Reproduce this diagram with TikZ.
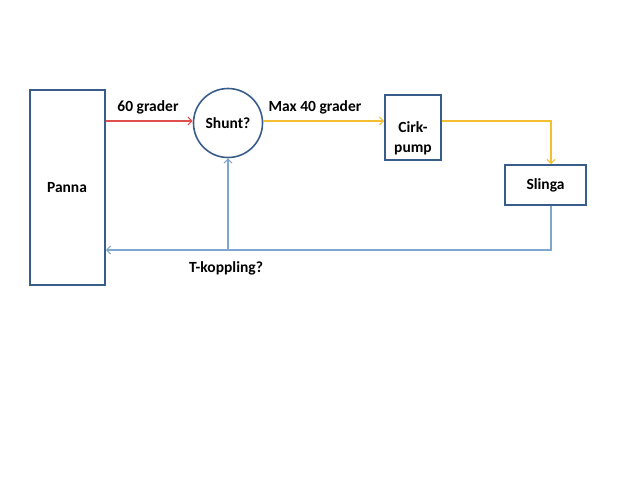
\documentclass[tikz,border=0pt]{standalone}
\usepackage{fontspec}
\setmainfont{Carlito}
\usetikzlibrary{arrows.meta}
\definecolor{boxc}{HTML}{385D8A}
\definecolor{redl}{HTML}{E0504D}
\definecolor{yell}{HTML}{F5BE30}
\definecolor{bluel}{HTML}{7FA6CE}
\begin{document}
\begin{tikzpicture}[x=1pt,y=-1pt,
  box/.style={draw=boxc,line width=1.6pt,fill=white,font=\bfseries\fontsize{15.5}{20}\selectfont,align=center,inner sep=0pt},
  lbl/.style={font=\bfseries\fontsize{15.5}{20}\selectfont,inner sep=0pt,align=center},
  conn/.style={line width=1.1pt,-{Straight Barb[length=4pt,width=8pt]}}]
\useasboundingbox (0,0) rectangle (640,480);
\fill[white] (0,0) rectangle (640,480);
\node[box,minimum width=75pt,minimum height=195pt] (panna) at (67.5,187.5) {};
\node[lbl] (pannatext) at (67,188) {Panna};
\node[box,circle,minimum size=69pt] (shunt) at (228,123) {Shunt?};
\node[box,minimum width=56pt,minimum height=65pt] (cirk) at (413,127.5) {};
\node[lbl] (cirktext) at (413,138) {Cirk-\\pump};
\node[box,minimum width=81pt,minimum height=40pt] (slinga) at (545.5,185) {Slinga};
\coordinate (c1) at (551,121);
\coordinate (c2) at (551,250);
\coordinate (tj) at (228,250);
\draw[conn,redl] (panna.east |- 0,121) -- (shunt.west |- 0,121);
\draw[conn,yell] (shunt.east |- 0,121) -- (cirk.west |- 0,121);
\draw[conn,yell] (cirk.east |- 0,121) -- (c1) -- (slinga.north -| c1);
\draw[conn,bluel] (slinga.south -| c2) -- (c2) -- (panna.east |- c2);
\draw[conn,bluel] (tj) -- (shunt.south);
\node[lbl] (l60) at (148,107) {60 grader};
\node[lbl] (l40) at (315,107) {Max 40 grader};
\node[lbl] (ltk) at (226,268) {T-koppling?};
\end{tikzpicture}
\end{document}
